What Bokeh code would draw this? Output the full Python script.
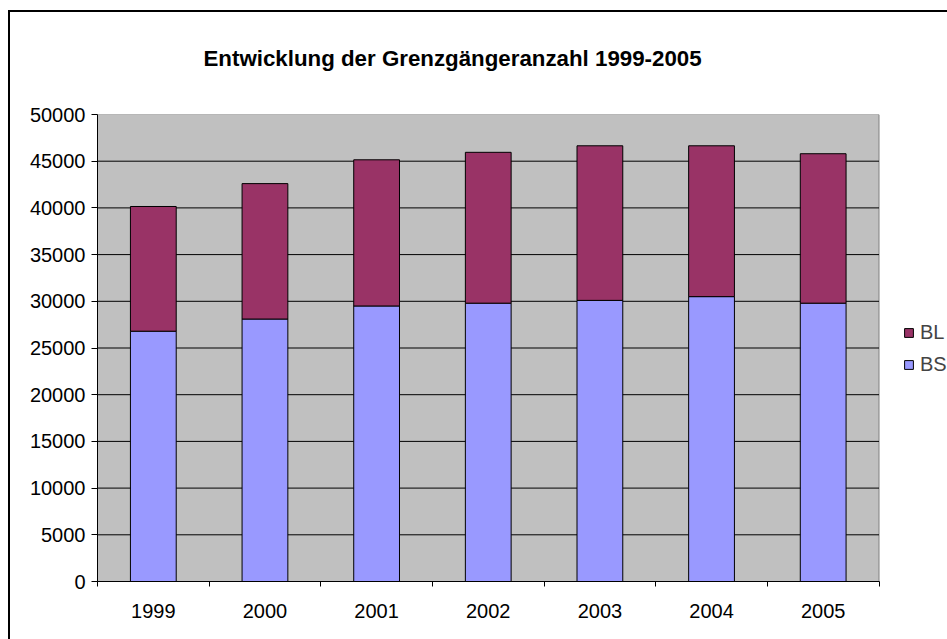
from bokeh.plotting import figure
from bokeh.models import (FixedTicker, Legend, LegendItem, Title, Range1d,
                          ColumnDataSource)
from bokeh.embed import file_html
from bokeh.resources import INLINE

# ---- data ----
years = ["1999", "2000", "2001", "2002", "2003", "2004", "2005"]
bs_values = [26800, 28100, 29500, 29800, 30100, 30500, 29800]
bl_values = [13350, 14500, 15650, 16150, 16550, 16150, 16000]
y_ticks = [0, 5000, 10000, 15000, 20000, 25000, 30000, 35000, 40000, 45000, 50000]
title_text = "Entwicklung der Grenzgängeranzahl 1999-2005"

FONT = "Liberation Sans"
BL_COLOR = "#993366"
BS_COLOR = "#9999FF"

n = len(years)
xpos = [i + 0.5 for i in range(n)]
src = ColumnDataSource(dict(x=xpos, BS=bs_values, BL=bl_values))

# frame spans from the y axis to the right edge; the grey plot area covers 0..n
FRAME_LEFT = 97
FIG_W, FIG_H = 947, 639
PLOT_AREA_PX = 781.5            # pixel width of the grey plot area
x_end = n * (FIG_W - FRAME_LEFT) / PLOT_AREA_PX

p = figure(width=FIG_W, height=FIG_H, output_backend="svg", toolbar_location=None,
           x_range=Range1d(0, x_end), y_range=Range1d(0, 50000),
           min_border_left=FRAME_LEFT, min_border_right=0, min_border_top=113,
           min_border_bottom=58,
           background_fill_color=None, border_fill_color=None,
           outline_line_color=None)
# outer chart border (left and top edges; right/bottom lie outside the window)
p.styles = {"background": "linear-gradient(#000, #000) 8px 10px / 2px 100% no-repeat, "
                          "linear-gradient(#000, #000) 8px 10px / 100% 2px no-repeat"}

t = Title(text=title_text, text_font=FONT, text_font_size="22.3px",
          text_font_style="bold", align="left", offset=106, standoff=87,
          text_color="black")
p.add_layout(t, "above")

# grey plot area and gridlines
p.quad(left=0, right=n, bottom=y_ticks[0], top=y_ticks[-1],
       fill_color="#C0C0C0", line_color="#808080", line_width=1, level="image")
grid_y = y_ticks[1:-1]
p.segment(x0=[0] * len(grid_y), y0=grid_y, x1=[n] * len(grid_y), y1=grid_y,
          line_color="black", line_width=1, level="underlay")

renderers = p.vbar_stack(["BS", "BL"], x="x", width=0.41, source=src,
                         color=[BS_COLOR, BL_COLOR], line_color="black",
                         line_width=1)

# axes
p.xaxis.ticker = FixedTicker(ticks=xpos, minor_ticks=list(range(n + 1)))
p.xaxis.major_label_overrides = {x: y for x, y in zip(xpos, years)}
p.xaxis.bounds = (0, n)
p.xaxis.major_tick_out = 0
p.xaxis.major_tick_in = 0
p.xaxis.minor_tick_out = 5
p.xaxis.minor_tick_in = 0
p.xaxis.major_label_standoff = 17

p.yaxis.ticker = FixedTicker(ticks=y_ticks, minor_ticks=[])
p.yaxis.major_tick_out = 6
p.yaxis.major_tick_in = 0
p.yaxis.minor_tick_out = 0
p.yaxis.major_label_standoff = 6

for ax in (p.xaxis[0], p.yaxis[0]):
    ax.axis_line_color = "black"
    ax.axis_line_width = 1
    ax.major_tick_line_color = "black"
    ax.minor_tick_line_color = "black"
    ax.major_label_text_font = FONT
    ax.major_label_text_font_size = "20px"
    ax.major_label_text_color = "black"

p.xgrid.grid_line_color = None
p.ygrid.grid_line_color = None

legend = Legend(items=[LegendItem(label="BL", renderers=[renderers[1]]),
                       LegendItem(label="BS", renderers=[renderers[0]])],
                location=(806, 205), orientation="vertical",
                glyph_width=11, glyph_height=11, label_standoff=6,
                label_height=24, spacing=8, padding=0, margin=0,
                label_text_font=FONT, label_text_font_size="20px",
                border_line_color=None, background_fill_alpha=0)
p.add_layout(legend, "center")

open("out.html", "w").write(file_html(p, INLINE))
